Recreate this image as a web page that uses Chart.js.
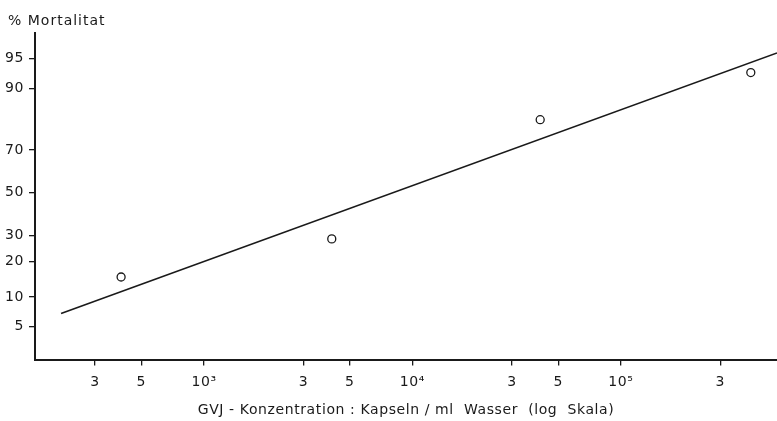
<!DOCTYPE html>
<html>
<head>
<meta charset="utf-8">
<script src="https://cdn.jsdelivr.net/npm/chart.js@4.4.1/dist/chart.umd.min.js"></script>
<style>
  html, body { margin: 0; padding: 0; background: #fff; }
  #c { display: block; }
</style>
</head>
<body>
<canvas id="c" width="777" height="421"></canvas>
<script>
// ---- data ----
const yTickPercents = [5, 10, 20, 30, 50, 70, 90, 95];
const yTickLabels = ['5', '10', '20', '30', '50', '70', '90', '95'];
const xTickValues = [300, 500, 1000, 3000, 5000, 10000, 30000, 50000, 100000, 300000];
const xTickLabels = ['3', '5', '10³', '3', '5', '10⁴', '3', '5', '10⁵', '3'];
const pointsX = [400, 4100, 41000, 420000];
const pointsPct = [15, 28.5, 81.5, 93];
const fitX = [206, 561000];
const fitPct = [6.9, 95.7];
const xMin = 154.5, xMax = 561000;
const yMinProbit = -2.05, yMaxProbit = 1.962;
const yTitle = '% Mortalitat';
const xTitle = 'GVJ - Konzentration : Kapseln / ml  Wasser  (log  Skala)';

// inverse normal CDF (Acklam) for the probability-paper scale
function probit(pct) {
  const p = pct / 100;
  const a = [-3.969683028665376e+01, 2.209460984245205e+02, -2.759285104469687e+02, 1.383577518672690e+02, -3.066479806614716e+01, 2.506628277459239e+00];
  const b = [-5.447609879822406e+01, 1.615858368580409e+02, -1.556989798598866e+02, 6.680131188771972e+01, -1.328068155288572e+01];
  const c = [-7.784894002430293e-03, -3.223964580411365e-01, -2.400758277161838e+00, -2.549732539343734e+00, 4.374664141464968e+00, 2.938163982698783e+00];
  const d = [7.784695709041462e-03, 3.224671290700398e-01, 2.445134137142996e+00, 3.754408661907416e+00];
  const pl = 0.02425, ph = 1 - pl;
  let q, r;
  if (p < pl) {
    q = Math.sqrt(-2 * Math.log(p));
    return (((((c[0]*q+c[1])*q+c[2])*q+c[3])*q+c[4])*q+c[5]) / ((((d[0]*q+d[1])*q+d[2])*q+d[3])*q+1);
  } else if (p <= ph) {
    q = p - 0.5; r = q*q;
    return (((((a[0]*r+a[1])*r+a[2])*r+a[3])*r+a[4])*r+a[5])*q / (((((b[0]*r+b[1])*r+b[2])*r+b[3])*r+b[4])*r+1);
  } else {
    q = Math.sqrt(-2 * Math.log(1 - p));
    return -(((((c[0]*q+c[1])*q+c[2])*q+c[3])*q+c[4])*q+c[5]) / ((((d[0]*q+d[1])*q+d[2])*q+d[3])*q+1);
  }
}

const FONT = 'DejaVu Sans';
const INK = '#1a1a1a';

const bgPlugin = {
  id: 'bg',
  beforeDraw(chart) {
    const ctx = chart.ctx;
    ctx.fillStyle = '#fff';
    ctx.fillRect(0, 0, chart.width, chart.height);
    try { ctx.letterSpacing = '0.6px'; } catch (e) {}
  }
};

const topLabel = {
  id: 'topLabel',
  afterDraw(chart) {
    const ctx = chart.ctx;
    const a = chart.chartArea;
    ctx.save();
    ctx.fillStyle = INK;
    ctx.font = '14px "' + FONT + '"';
    ctx.textBaseline = 'alphabetic';
    ctx.textAlign = 'left';
    try { ctx.letterSpacing = '1px'; } catch (e) {}
    ctx.fillText(yTitle, a.left - 27, a.top - 8);
    ctx.restore();
  }
};

new Chart(document.getElementById('c'), {
  data: {
    datasets: [
      {
        type: 'line',
        data: fitX.map((x, i) => ({ x: x, y: probit(fitPct[i]) })),
        borderColor: INK,
        borderWidth: 1.6,
        pointRadius: 0,
        fill: false,
        tension: 0
      },
      {
        type: 'scatter',
        data: pointsX.map((x, i) => ({ x: x, y: probit(pointsPct[i]) })),
        pointStyle: 'circle',
        pointRadius: 4,
        borderColor: INK,
        borderWidth: 1.3,
        backgroundColor: 'rgba(255,255,255,1)'
      }
    ]
  },
  options: {
    responsive: false,
    animation: false,
    layout: { autoPadding: false, padding: { top: 33, left: 0, right: 0, bottom: 0 } },
    plugins: {
      legend: { display: false },
      tooltip: { enabled: false },
      title: { display: false }
    },
    scales: {
      x: {
        type: 'logarithmic',
        position: 'bottom',
        min: xMin,
        max: xMax,
        afterBuildTicks(scale) { scale.ticks = xTickValues.map(v => ({ value: v })); },
        afterFit(scale) { scale.height = 61.5; scale.paddingRight = 0; scale.paddingLeft = 0; },
        grid: { display: true, drawOnChartArea: false, drawTicks: true, tickLength: 6, color: INK, lineWidth: 1.3 },
        border: { display: true, color: INK, width: 2 },
        ticks: {
          autoSkip: false,
          maxRotation: 0,
          padding: 8,
          color: INK,
          font: { family: FONT, size: 14 },
          callback: (v, i) => xTickLabels[i]
        },
        title: {
          display: true,
          text: xTitle,
          color: INK,
          font: { family: FONT, size: 14 },
          padding: { top: 0, bottom: 2 }
        }
      },
      y: {
        type: 'linear',
        min: yMinProbit,
        max: yMaxProbit,
        afterBuildTicks(scale) { scale.ticks = yTickPercents.map(p => ({ value: probit(p) })); },
        afterFit(scale) { scale.width = 35; scale.paddingTop = 0; scale.paddingBottom = 0; },
        grid: { display: true, drawOnChartArea: false, drawTicks: true, tickLength: 6, color: INK, lineWidth: 1.3 },
        border: { display: true, color: INK, width: 2 },
        ticks: {
          autoSkip: false,
          padding: 5,
          color: INK,
          font: { family: FONT, size: 14 },
          callback: (v, i) => yTickLabels[i]
        }
      }
    }
  },
  plugins: [bgPlugin, topLabel]
});
</script>
</body>
</html>
